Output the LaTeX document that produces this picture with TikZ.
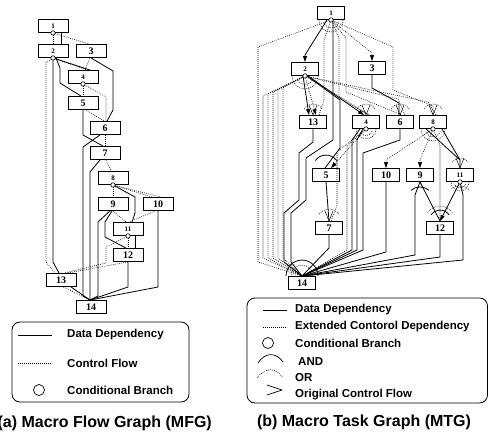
\documentclass[tikz,border=0pt]{standalone}
\usepackage{fontspec}
\newfontfamily\numfont{Liberation Serif}
\newfontfamily\lgfont{Liberation Sans}
\usetikzlibrary{arrows.meta}
\begin{document}
\begin{tikzpicture}[x=1pt,y=-1pt,
  dd/.style={line width=0.8pt},
  cf/.style={line width=0.6pt, dash pattern=on 0.8pt off 1.2pt},
  nbox/.style={draw, line width=0.9pt, fill=white, minimum width=30pt, minimum height=13pt, inner sep=0pt, font=\numfont\bfseries\fontsize{10}{10}\selectfont},
  tbox/.style={nbox, minimum width=26.5pt},
  sm/.style={font=\numfont\bfseries\fontsize{7}{7}\selectfont},
  arr/.style={-{Triangle[length=6pt,width=4pt]}},
  vm/.style={line width=0.5pt},
  lgtxt/.style={anchor=west, font=\lgfont\bfseries\fontsize{11.5}{11.5}\selectfont, inner sep=0pt},
  captxt/.style={font=\lgfont\bfseries\fontsize{16}{16}\selectfont, inner sep=0pt}
]
\path[use as bounding box] (0,0) rectangle (489,443);

% ================= MFG =================
\node[nbox,sm] (a1) at (53,26) {1};
\node[nbox,sm] (a2) at (53,51) {2};
\node[nbox] (a3) at (91,51) {3};
\node[nbox,sm] (a4) at (83,77) {4};
\node[nbox] (a5) at (83,103) {5};
\node[nbox] (a6) at (105,128) {6};
\node[nbox] (a7) at (105,153) {7};
\node[nbox,sm] (a8) at (113,178) {8};
\node[nbox] (a9) at (113,204) {9};
\node[nbox] (a10) at (158,204) {10};
\node[nbox,sm] (a11) at (128,229) {11};
\node[nbox] (a12) at (128,255) {12};
\node[nbox] (a13) at (61,280) {13};
\node[nbox] (a14) at (91,307) {14};
\coordinate (ca1) at (a1.south);
\coordinate (ca2) at (a2.south);
\coordinate (ca4) at (a4.south);
\coordinate (ca8) at (a8.south);
\coordinate (ca11) at (a11.south);
\coordinate (e14) at ([xshift=-1]a14.north);

\draw[cf] (ca1) -- (a2.north);
\draw[dd] ([xshift=8]a1.south) -- ([xshift=8]a2.north);
\draw[cf] (ca1) -- ([xshift=-2]a3.north);
\draw[cf] (ca2) -- (46,63) -- (46,262) -- ([xshift=-6]a13.north);
\draw[dd] (ca2) -- (53,262) -- ([xshift=-2]a13.north);
\draw[dd] (ca2) -- ([xshift=7]a4.north);
\draw[cf] (ca2) -- ([xshift=4]a4.north);
\draw[dd] ([xshift=3]a2.south) -- (60,68) -- (60,83) -- ([xshift=-2]a5.north);
\draw[cf] ([xshift=-1]a3.south) -- ([xshift=2]a4.north);
\draw[dd] (a3.south) -- (113,71) -- (113,110) -- ([xshift=2]a6.north);
\draw[cf] (ca4) -- (a5.north);
\draw[cf] (ca4) -- (106,97) -- ([xshift=1]a6.north);
\draw[cf] ([xshift=3]a5.south) -- ([xshift=-1]a6.north);
\draw[dd] (a5.south) -- (83,135) -- ([xshift=-2]a7.north);
\draw[dd] ([xshift=-5]a6.south) -- (83,147) -- (83,296) -- (e14);
\draw[cf] (a6.south) -- (a7.north);
\draw[dd] ([xshift=-5]a7.south) -- (90,172) -- (e14);
\draw[cf] ([xshift=1]a7.south) -- ([xshift=-2]a8.north);
\draw[cf] (ca8) -- (a9.north);
\draw[cf] (ca8) -- ([xshift=-6]a10.north);
\draw[cf] (ca8) -- ([xshift=3]a10.north);
\draw[dd] (ca8) -- (135,197) -- (135,213) -- ([xshift=4]a11.north);
\draw[cf] (a9.south) -- ([xshift=-2]a11.north);
\draw[cf] ([xshift=-3]a10.south) -- ([xshift=1]a11.north);
\draw[dd] ([xshift=-3]a9.south) -- (98,222) -- (98,296) -- (e14);
\draw[dd] ([xshift=-1]a9.south) -- (105,222) -- (105,237) -- ([xshift=-2]a12.north);
\draw[cf] (ca11) -- (a12.north);
\draw[dd] ([xshift=7]a11.south) -- ([xshift=7]a12.north);
\draw[cf] (ca11) -- (106,247) -- (106,263) -- ([xshift=3]a13.north);
\draw[cf] (a12.south) -- ([xshift=6]a13.north);
\draw[dd] (a12.south) -- (128,287) -- (e14);
\draw[dd] (a10.south) -- (158,287) -- (e14);
\draw[dd] ([xshift=10]a13.south) -- (e14);
\draw[cf] ([xshift=2]a13.south) -- (e14);
\foreach \c in {ca1,ca2,ca4,ca8,ca11} \draw[line width=0.6pt,fill=white] (\c) circle (2.2);

% legend (a)
\draw[line width=0.8pt, rounded corners=8pt] (12,322) rectangle (189,402);
\draw[dd] (18,335) -- (52,335);
\node[lgtxt] (la1) at (67,335) {Data Dependency};
\draw[cf] (18,363) -- (52,363);
\node[lgtxt] (la2) at (67,363) {Control Flow};
\draw[line width=0.7pt] (39,390) circle (5.5);
\node[lgtxt] (la3) at (67,390) {Conditional Branch};
\node[captxt, anchor=east] (capa) at (212,423) {(a) Macro Flow Graph (MFG)};

% ================= MTG =================
\node[tbox,sm] (b1) at (331,13) {1};
\node[tbox,sm] (b2) at (305,69) {2};
\node[tbox] (b3) at (372,68) {3};
\node[tbox] (b13) at (313,122) {13};
\node[tbox,sm] (b4) at (366,122) {4};
\node[tbox] (b6) at (400,122) {6};
\node[tbox,sm] (b8) at (433,122) {8};
\node[tbox] (b5) at (326,175) {5};
\node[tbox] (b10) at (386,175) {10};
\node[tbox] (b9) at (420,175) {9};
\node[tbox,sm] (b11) at (460,175) {11};
\node[tbox] (b7) at (329,228) {7};
\node[tbox] (b12) at (440,228) {12};
\node[tbox] (b14) at (302,283) {14};
\coordinate (cb1) at (b1.south);
\coordinate (cb2) at (b2.south);
\coordinate (cb4) at (b4.south);
\coordinate (cb8) at (b8.south);
\coordinate (cb11) at (b11.south);
\coordinate (f14) at (b14.north);

% data dependency
\draw[dd,arr] ([xshift=-4]b1.south) -- (305,55) -- (b2.north);
\draw[dd] ([xshift=2]b1.south) -- (333,140) -- (306,158) -- (306,200) -- (291,213) -- (291,262) -- (f14);
\draw[dd,arr] ([xshift=-2]b2.south) -- ([xshift=-4]b13.north);
\draw[dd,arr] ([xshift=3]b2.south) -- ([xshift=-2]b4.north);
\draw[dd] ([xshift=2]b2.south) -- (340,100) -- (340,148) -- ([xshift=-1]b5.north);
\draw[dd] (b3.south) -- (372,88) -- (399,103) -- ([xshift=-1]b6.north);
\draw[dd] (b13.south) -- (313,142) -- (299,153) -- (299,200) -- (284,213) -- (284,262) -- (f14);
\draw[dd] (b5.south) -- (b7.north);
\draw[dd] (b7.south) -- (329,248) -- (f14);
\draw[dd] ([xshift=-6]b4.south) -- (352,140) -- (352,250) -- (f14);
\draw[dd] ([xshift=-3]b4.south) -- (357,140) -- (357,250) -- (f14);
\draw[dd] (b6.south) -- (400,140) -- (363,153) -- (363,250) -- (f14);
\draw[dd] ([xshift=-7]b8.south) -- (460,160) -- (b11.north);
\draw[dd] ([xshift=9]b8.south) -- (460,160);
\draw[dd] (b9.south) -- (b12.north);
\draw[dd] (b9.south) -- (415,195) -- (415,255) -- (f14);
\draw[dd] (b10.south) -- (386,252) -- (f14);
\draw[dd,arr] (cb11) -- (b12.north);
\draw[dd] (cb11) -- (463,195) -- (463,260) -- (f14);
\draw[dd] (b12.south) -- (440,257) -- (f14);

% extended control dependency
\draw[cf] (cb1) -- (258,47) -- (258,262) -- (f14);
\draw[cf,arr] (cb1) -- (372,53) -- (b3.north);
\draw[cf] (cb1) -- (393,47) -- (393,90) -- (433,106) -- (b8.north);
\draw[cf] (cb1) -- (346,38) -- (346,92) -- ([xshift=2]b6.north);
\draw[cf] (cb1) -- (339,38) -- (339,97) -- ([xshift=2]b4.north);
\draw[cf] (cb1) -- (324,40) -- (324,100) -- ([xshift=6]b13.north);
\foreach \x/\y in {263/96,268/94,273/92,278/90,283/88}
  \draw[cf] (cb2) -- (\x,\y) -- (\x,258) -- (f14);
\draw[cf,arr] (cb2) -- ([xshift=3]b13.north);
\draw[cf] (cb2) -- ([xshift=4]b4.north);
\draw[cf] (cb2) -- (398,99) -- ([xshift=5]b6.north);
\draw[cf] (cb2) -- (428,102) -- ([xshift=3]b8.north);
\draw[cf,arr] (cb4) -- ([xshift=5]b5.north);
\draw[cf] (cb4) -- (337,152) -- (337,205) -- ([xshift=2]b7.north);
\draw[cf] (cb4) -- (347,146) -- (347,250) -- (f14);
\draw[cf,arr] (cb8) -- (386,160) -- (b10.north);
\draw[cf,arr] (cb8) -- (420,160) -- (b9.north);
\draw[cf] (cb8) -- (440,145) -- (b12.north);

% branch fans (below conditional branches)
\foreach \c/\r in {cb1/12,cb2/13,cb4/10,cb8/12,cb11/9} {
  \draw[cf] (\c) ++(0:\r) arc[start angle=0,end angle=180,radius=\r];
  \draw[cf] (\c) ++(20:\r*0.65) arc[start angle=20,end angle=160,radius=\r*0.65];
}
% arrival arcs
\foreach \n/\r in {b13/11,b4/11,b6/11,b8/11,b7/12,b11/10}
  \draw[cf] (\n.north) ++(-35:\r) arc[start angle=-35,end angle=-145,radius=\r];
\draw[dd] (b5.north) ++(-35:13) arc[start angle=-35,end angle=-145,radius=13];
\draw[dd] (b12.north) ++(-35:11) arc[start angle=-35,end angle=-145,radius=11];
\draw[cf] (b12.north) ++(-35:15) arc[start angle=-35,end angle=-145,radius=15];
\draw[dd] (420,201) ++(-50:14) arc[start angle=-50,end angle=-130,radius=14];
\draw[cf] (460,200) ++(-50:14) arc[start angle=-50,end angle=-130,radius=14];
\draw[dd] (f14) ++(0:16) arc[start angle=0,end angle=-180,radius=16];
\draw[cf] (f14) ++(0:11) arc[start angle=0,end angle=-180,radius=11];
% original control flow marks
\foreach \n in {b13,b4,b6,b8,b7,b11}
  \draw[vm] ([xshift=-4,yshift=10]\n.north) -- (\n.north) -- ([xshift=4,yshift=10]\n.north);
\foreach \c in {cb1,cb2,cb4,cb8,cb11} \draw[line width=0.6pt,fill=white] (\c) circle (2.2);

% legend (b)
\draw[line width=0.8pt, rounded corners=8pt] (247,298) rectangle (487.5,403);
\draw[dd] (263,310) -- (287,310);
\node[lgtxt] (lb1) at (295,310) {Data Dependency};
\draw[cf] (263,327) -- (287,327);
\node[lgtxt] (lb2) at (295,327) {Extended Contorol Dependency};
\draw[line width=0.7pt] (268,343) circle (5.5);
\node[lgtxt] (lb3) at (295,343) {Conditional Branch};
\draw[line width=0.7pt] (258,363) .. controls (265,352) and (276,352) .. (283,362);
\node[lgtxt] (lb4) at (298,362) {AND};
\draw[cf] (257,378) .. controls (265,367) and (276,367) .. (283,378);
\node[lgtxt] (lb5) at (295,378) {OR};
\draw[line width=0.7pt] (267,385) -- (282,390) -- (267,395);
\node[lgtxt] (lb6) at (295,395) {Original Control Flow};
\node[captxt] (capb) at (364,422) {(b) Macro Task Graph (MTG)};
\end{tikzpicture}
\end{document}
